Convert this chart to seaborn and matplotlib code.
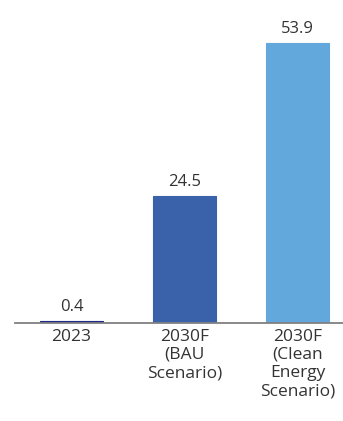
import matplotlib
matplotlib.use("Agg")
import matplotlib.pyplot as plt
import seaborn as sns
import pandas as pd

categories = ["2023", "2030F\n(BAU\nScenario)", "2030F\n(Clean\nEnergy\nScenario)"]
values = [0.4, 24.5, 53.9]
colors = ["#1C2A86", "#3A62AA", "#62A8DC"]

sns.set_theme(style="white")
plt.rcParams["font.family"] = ["Open Sans", "DejaVu Sans"]

df = pd.DataFrame({"category": categories, "value": values})

fig = plt.figure(figsize=(3.43, 4.21), dpi=100)
ax = fig.add_axes([15 / 343, 98 / 421, 328 / 343, 303 / 421])

sns.barplot(data=df, x="category", y="value", hue="category",
            palette=colors, width=0.56, legend=False, ax=ax,
            saturation=1, linewidth=0.8)
for patch, c in zip(ax.patches, colors):
    patch.set_edgecolor(c)

for container in ax.containers:
    ax.bar_label(container, fmt="%.1f", padding=4, fontsize=12,
                 color="#333333")

ax.set_xlim(-0.5, 2.4)
ax.set_ylim(0, 58.3)
ax.set_xlabel("")
ax.set_ylabel("")
ax.set_yticks([])
ax.tick_params(axis="x", length=0, pad=4, labelsize=12.5, labelcolor="#333333")
for lbl in ax.get_xticklabels():
    lbl.set_linespacing(1.2)

for side in ["top", "right", "left"]:
    ax.spines[side].set_visible(False)
ax.spines["bottom"].set_color("#808080")
ax.spines["bottom"].set_linewidth(1.3)

fig.savefig("out.png", dpi=100, facecolor="white")
